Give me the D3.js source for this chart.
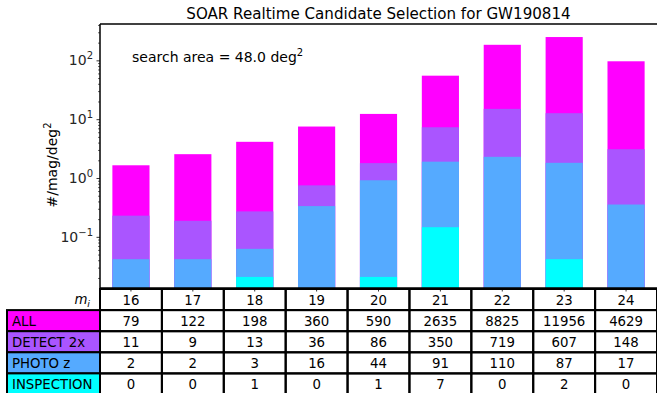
<!DOCTYPE html>
<html>
<head>
<meta charset="utf-8">
<script src="https://cdn.jsdelivr.net/npm/d3@7"></script>
<style>
  html, body { margin: 0; padding: 0; background: #fff; }
  svg { display: block; font-family: "DejaVu Sans", sans-serif; }
</style>
</head>
<body>
<svg id="chart" width="657" height="393"></svg>
<script>
// Candidate counts per magnitude bin
const mags = [16, 17, 18, 19, 20, 21, 22, 23, 24];
const allCounts = [79, 122, 198, 360, 590, 2635, 8825, 11956, 4629];
const detectCounts = [11, 9, 13, 36, 86, 350, 719, 607, 148];
const photoCounts = [2, 2, 3, 16, 44, 91, 110, 87, 17];
const inspectionCounts = [0, 0, 1, 0, 1, 7, 0, 2, 0];
const searchArea = 48.0;
const rowLabels = ["ALL", "DETECT 2x", "PHOTO z", "INSPECTION"];
const rowColors = ["#ff00ff", "#aa55ff", "#55aaff", "#00ffff"];
const yTickValues = [0.1, 1, 10, 100];
const yTickExps = ["\u22121", "0", "1", "2"];

const series = [allCounts, detectCounts, photoCounts, inspectionCounts];

(function draw() {
  const svg = d3.select("#chart");
  const axLeft = 100, axRight = 657, axTop = 24, axBottom = 288;
  const tableFont = 13.3;

  const x = d3.scaleBand().domain(mags).range([axLeft, axRight]).paddingInner(0).paddingOuter(0);
  const y = d3.scaleLog().domain([0.0135, 415]).range([axBottom, axTop]);
  const barW = x.bandwidth() * 0.6;

  // Bars: each series overlaid from the axis floor, densities per mag per deg^2
  series.forEach((vals, si) => {
    svg.append("g").selectAll("rect")
      .data(vals.map((v, i) => ({ m: mags[i], d: v / searchArea })).filter(d => d.d > 0))
      .join("rect")
      .attr("x", d => x(d.m) + (x.bandwidth() - barW) / 2)
      .attr("width", barW)
      .attr("y", d => y(d.d))
      .attr("height", d => axBottom - y(d.d))
      .attr("fill", rowColors[si]);
  });

  // Y axis (log) with minor ticks
  const yAxis = d3.axisLeft(y).tickValues(yTickValues).tickSize(3.5).tickFormat("");
  const yg = svg.append("g").attr("transform", `translate(${axLeft},0)`).call(yAxis);
  yg.select(".domain").remove();
  yg.selectAll("line").attr("stroke", "#000").attr("stroke-width", 0.8);

  const minor = [];
  for (let e = -2; e <= 2; e++) {
    for (let k = 2; k <= 9; k++) {
      const v = k * Math.pow(10, e);
      if (v >= y.domain()[0] && v <= y.domain()[1]) minor.push(v);
    }
  }
  const yMinor = d3.axisLeft(y).tickValues(minor).tickSize(2).tickFormat("");
  const ymg = svg.append("g").attr("transform", `translate(${axLeft},0)`).call(yMinor);
  ymg.select(".domain").remove();
  ymg.selectAll("line").attr("stroke", "#000").attr("stroke-width", 0.6);

  // Tick labels 10^k
  yTickValues.forEach((v, i) => {
    const t = svg.append("text")
      .attr("x", axLeft - 7)
      .attr("y", y(v) + 5)
      .attr("text-anchor", "end")
      .attr("font-size", 14)
      .attr("fill", "#262626");
    t.append("tspan").text("10");
    t.append("tspan").attr("dy", -6).attr("font-size", 10).text(yTickExps[i]);
  });

  // X ticks at bar centres
  const xAxis = d3.axisBottom(x).tickSize(3.5).tickFormat("");
  const xg = svg.append("g").attr("transform", `translate(0,${axBottom})`).call(xAxis);
  xg.select(".domain").remove();
  xg.selectAll("line").attr("stroke", "#000").attr("stroke-width", 0.8);

  // Spines
  svg.append("line").attr("x1", axLeft).attr("x2", axRight).attr("y1", axTop).attr("y2", axTop)
    .attr("stroke", "#000").attr("stroke-width", 1.5);
  svg.append("line").attr("x1", axLeft).attr("x2", axLeft).attr("y1", axTop).attr("y2", axBottom)
    .attr("stroke", "#000").attr("stroke-width", 1.5);
  svg.append("line").attr("x1", axLeft).attr("x2", axRight).attr("y1", axBottom).attr("y2", axBottom)
    .attr("stroke", "#000").attr("stroke-width", 1.5);

  // Title
  svg.append("text")
    .attr("x", (axLeft + axRight) / 2)
    .attr("y", 19)
    .attr("text-anchor", "middle")
    .attr("font-size", 15.1)
    .attr("fill", "#000")
    .text("SOAR Realtime Candidate Selection for GW190814");

  // Annotation
  const ann = svg.append("text")
    .attr("x", 132)
    .attr("y", 62)
    .attr("font-size", 14)
    .attr("fill", "#000");
  ann.append("tspan").text(`search area = ${searchArea.toFixed(1)} deg`);
  ann.append("tspan").attr("dy", -6).attr("font-size", 10).text("2");

  // Y label
  const yl = svg.append("text")
    .attr("transform", `translate(57,165) rotate(-90)`)
    .attr("text-anchor", "middle")
    .attr("font-size", 14)
    .attr("fill", "#000");
  yl.append("tspan").text("#/mag/deg");
  yl.append("tspan").attr("dy", -6).attr("font-size", 10).text("2");

  // Table below the axes
  const rowH = 21.1;
  const tableTop = 289;
  const labelLeft = 7;
  const tg = svg.append("g");

  // Header row: magnitudes
  mags.forEach(m => {
    tg.append("rect")
      .attr("x", x(m)).attr("y", tableTop)
      .attr("width", x.bandwidth()).attr("height", rowH)
      .attr("fill", "none").attr("stroke", "#000").attr("stroke-width", 2);
    tg.append("text")
      .attr("x", x(m) + x.bandwidth() / 2)
      .attr("y", tableTop + rowH / 2 + 5)
      .attr("text-anchor", "middle")
      .attr("font-size", tableFont)
      .attr("fill", "#000")
      .text(m);
  });
  const mh = tg.append("text")
    .attr("x", 90)
    .attr("y", tableTop + rowH / 2 + 4)
    .attr("text-anchor", "end")
    .attr("font-size", tableFont)
    .attr("fill", "#000");
  mh.append("tspan").attr("font-style", "italic").text("m");
  mh.append("tspan").attr("font-style", "italic").attr("font-size", 9.5).attr("dy", 3).text("i");

  // Data rows
  series.forEach((vals, si) => {
    const ry = tableTop + rowH * (si + 1);
    tg.append("rect")
      .attr("x", labelLeft).attr("y", ry)
      .attr("width", axLeft - labelLeft).attr("height", rowH)
      .attr("fill", rowColors[si]).attr("stroke", "#000").attr("stroke-width", 2);
    tg.append("text")
      .attr("x", labelLeft + 5)
      .attr("y", ry + rowH / 2 + 5)
      .attr("font-size", tableFont)
      .attr("fill", "#000")
      .text(rowLabels[si]);
    vals.forEach((v, i) => {
      tg.append("rect")
        .attr("x", x(mags[i])).attr("y", ry)
        .attr("width", x.bandwidth()).attr("height", rowH)
        .attr("fill", "none").attr("stroke", "#000").attr("stroke-width", 2);
      tg.append("text")
        .attr("x", x(mags[i]) + x.bandwidth() / 2)
        .attr("y", ry + rowH / 2 + 5)
        .attr("text-anchor", "middle")
        .attr("font-size", tableFont)
        .attr("fill", "#000")
        .text(v);
    });
  });
})();
</script>
</body>
</html>
